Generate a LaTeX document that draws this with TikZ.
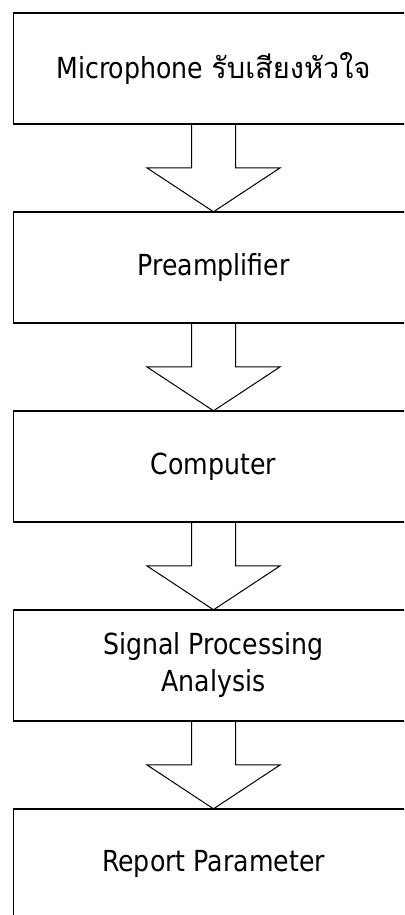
\documentclass[tikz,border=0pt]{standalone}
\usepackage{fontspec}
\setmainfont[FakeStretch=0.87]{DejaVu Sans}
\newfontfamily\thaifont[Script=Thai]{Loma}
\usetikzlibrary{positioning,calc}

\newcommand{\blockarrow}[2]{%
  \draw[thin arrow] ($(#1.south)+(-22,0)$) -- ++(0,44) -- ++(-44.7,0) -- (#2.north)
    -- ($(#1.south)+(66.7,44)$) -- ++(-44.7,0) -- ++(0,-44);
}

\begin{document}
\begin{tikzpicture}[
    x=1pt, y=-1pt,
    node distance=88pt,
    box/.style={draw, line width=1.6pt, outer sep=0pt, align=center,
                minimum width=400pt, minimum height=111pt,
                font=\fontsize{29}{37}\selectfont},
    thin arrow/.style={draw, line width=1pt, line join=miter}
]
\path[use as bounding box, fill=white] (0,0) rectangle (404,915);
\clip (0,0) rectangle (404,915);

\node[box] (mic) at (213.5,68.3) {Microphone {\thaifont รับเสียงหัวใจ}};
\node[box, below=of mic] (preamp) {Preamplifier};
\node[box, below=of preamp] (computer) {Computer};
\node[box, below=of computer] (signal) {Signal Processing\\Analysis};
\node[box, below=of signal] (report) {Report Parameter};

\blockarrow{mic}{preamp}
\blockarrow{preamp}{computer}
\blockarrow{computer}{signal}
\blockarrow{signal}{report}

\end{tikzpicture}
\end{document}
